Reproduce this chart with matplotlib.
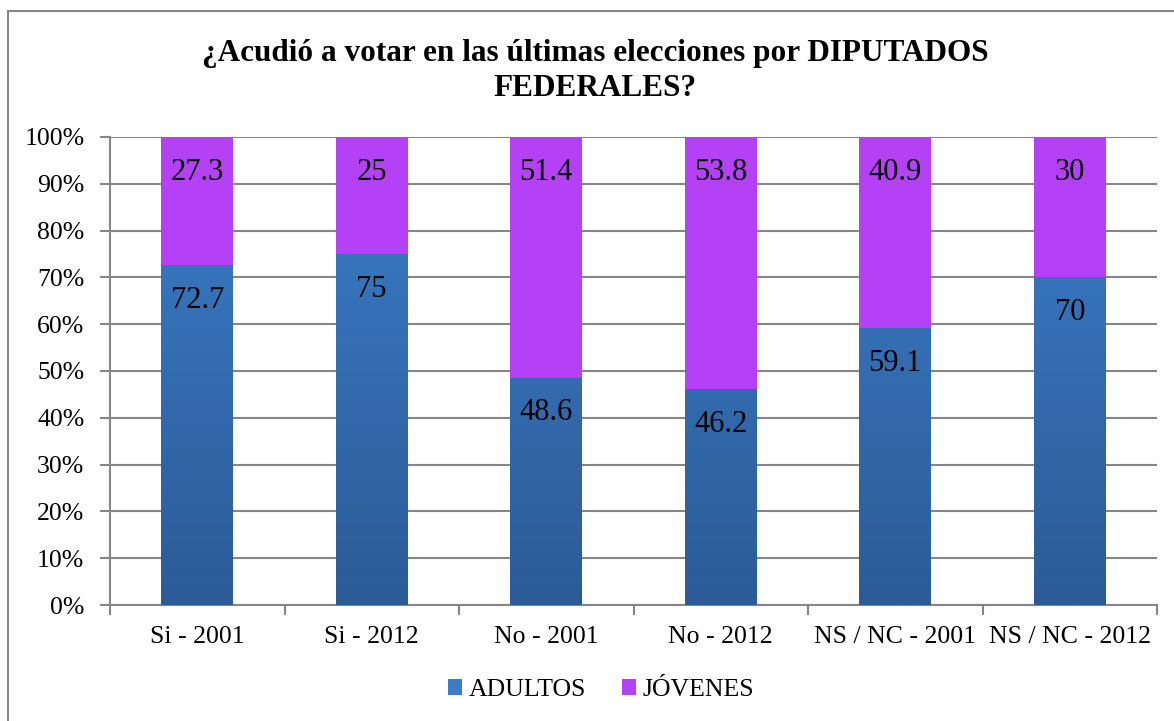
import matplotlib.pyplot as plt
import numpy as np
from matplotlib.patches import Rectangle

plt.rcParams["font.family"] = ["Liberation Serif", "DejaVu Serif"]

categories = ["Si - 2001", "Si - 2012", "No - 2001", "No - 2012",
              "NS / NC - 2001", "NS / NC - 2012"]
adultos = [72.7, 75, 48.6, 46.2, 59.1, 70]
jovenes = [27.3, 25, 51.4, 53.8, 40.9, 30]
adultos_labels = ["72.7", "75", "48.6", "46.2", "59.1", "70"]
jovenes_labels = ["27.3", "25", "51.4", "53.8", "40.9", "30"]
yticks = [0, 10, 20, 30, 40, 50, 60, 70, 80, 90, 100]

blue_top = "#3b7dc9"
blue_bottom = "#2c5b97"
purple = "#b441f5"
grid_color = "#868686"

fig = plt.figure(figsize=(11.74, 7.21), dpi=100)
ax = fig.add_axes([110 / 1174, 1 - 605 / 721, (1157 - 110) / 1174, (605 - 137) / 721])

x = np.arange(len(categories))
width = 0.41

# shares of the total for a 100% stacked bar
totals = np.array(adultos) + np.array(jovenes)
a_pct = np.array(adultos) / totals * 100
j_pct = np.array(jovenes) / totals * 100

bars_a = ax.bar(x, a_pct, width, color=blue_top, label="ADULTOS", zorder=3)
bars_j = ax.bar(x, j_pct, width, bottom=a_pct, color=purple, label="JÓVENES", zorder=3)

# vertical gradient on the blue segments
grad = np.linspace(1, 0, 256).reshape(-1, 1)
cmap = plt.matplotlib.colors.LinearSegmentedColormap.from_list("b", [blue_bottom, blue_top])
for bar in bars_a:
    bx, bw = bar.get_x(), bar.get_width()
    im = ax.imshow(grad, extent=[bx, bx + bw, 0, 100], cmap=cmap, aspect="auto",
                   zorder=3.5, origin="upper")
    im.set_clip_path(bar)

for i in range(len(categories)):
    ax.annotate(adultos_labels[i], xy=(x[i], a_pct[i]), xytext=(0, -15),
                textcoords="offset points", ha="center", va="top", fontsize=22, zorder=5)
    ax.annotate(jovenes_labels[i], xy=(x[i], 100), xytext=(0, -15),
                textcoords="offset points", ha="center", va="top", fontsize=22, zorder=5)

ax.set_xlim(-0.5, len(categories) - 0.5)
ax.set_ylim(0, 100)
ax.set_yticks(yticks)
ax.set_yticklabels([f"{t}%" for t in yticks])
ax.yaxis.grid(True, color=grid_color, linewidth=1.5, zorder=0)
ax.set_axisbelow(True)

ax.set_xticks(x)
ax.set_xticklabels(categories)
ax.set_xticks(np.arange(-0.5, len(categories)), minor=True)
ax.tick_params(axis="x", which="major", length=0, pad=15, labelsize=18.5)
ax.tick_params(axis="x", which="minor", length=7, width=1.5, color=grid_color, direction="out")
ax.tick_params(axis="y", length=7, width=1.5, color=grid_color, pad=11.5, labelsize=18.5)

for side in ["top", "right"]:
    ax.spines[side].set_visible(False)
for side in ["left", "bottom"]:
    ax.spines[side].set_color(grid_color)
    ax.spines[side].set_linewidth(1.5)

fig.text(595 / 1174, 1 - 53 / 721, "¿Acudió a votar en las últimas elecciones por DIPUTADOS",
         ha="center", va="center", fontsize=22.5, fontweight="bold")
fig.text(595 / 1174, 1 - 89 / 721, "FEDERALES?",
         ha="center", va="center", fontsize=22.5, fontweight="bold")

ax.legend(loc="center", bbox_to_anchor=((601 - 110) / 1047, -0.182), ncol=2, frameon=False,
          fontsize=18.5, handlelength=0.55, handleheight=0.55, handletextpad=0.25,
          columnspacing=1.4)

fig.patches.append(Rectangle((8 / 1174, -0.02), 1.05, 1 - 11 / 721 + 0.02,
                             transform=fig.transFigure, fill=False,
                             edgecolor=grid_color, linewidth=1.5))

fig.savefig("out.png", dpi=100)
